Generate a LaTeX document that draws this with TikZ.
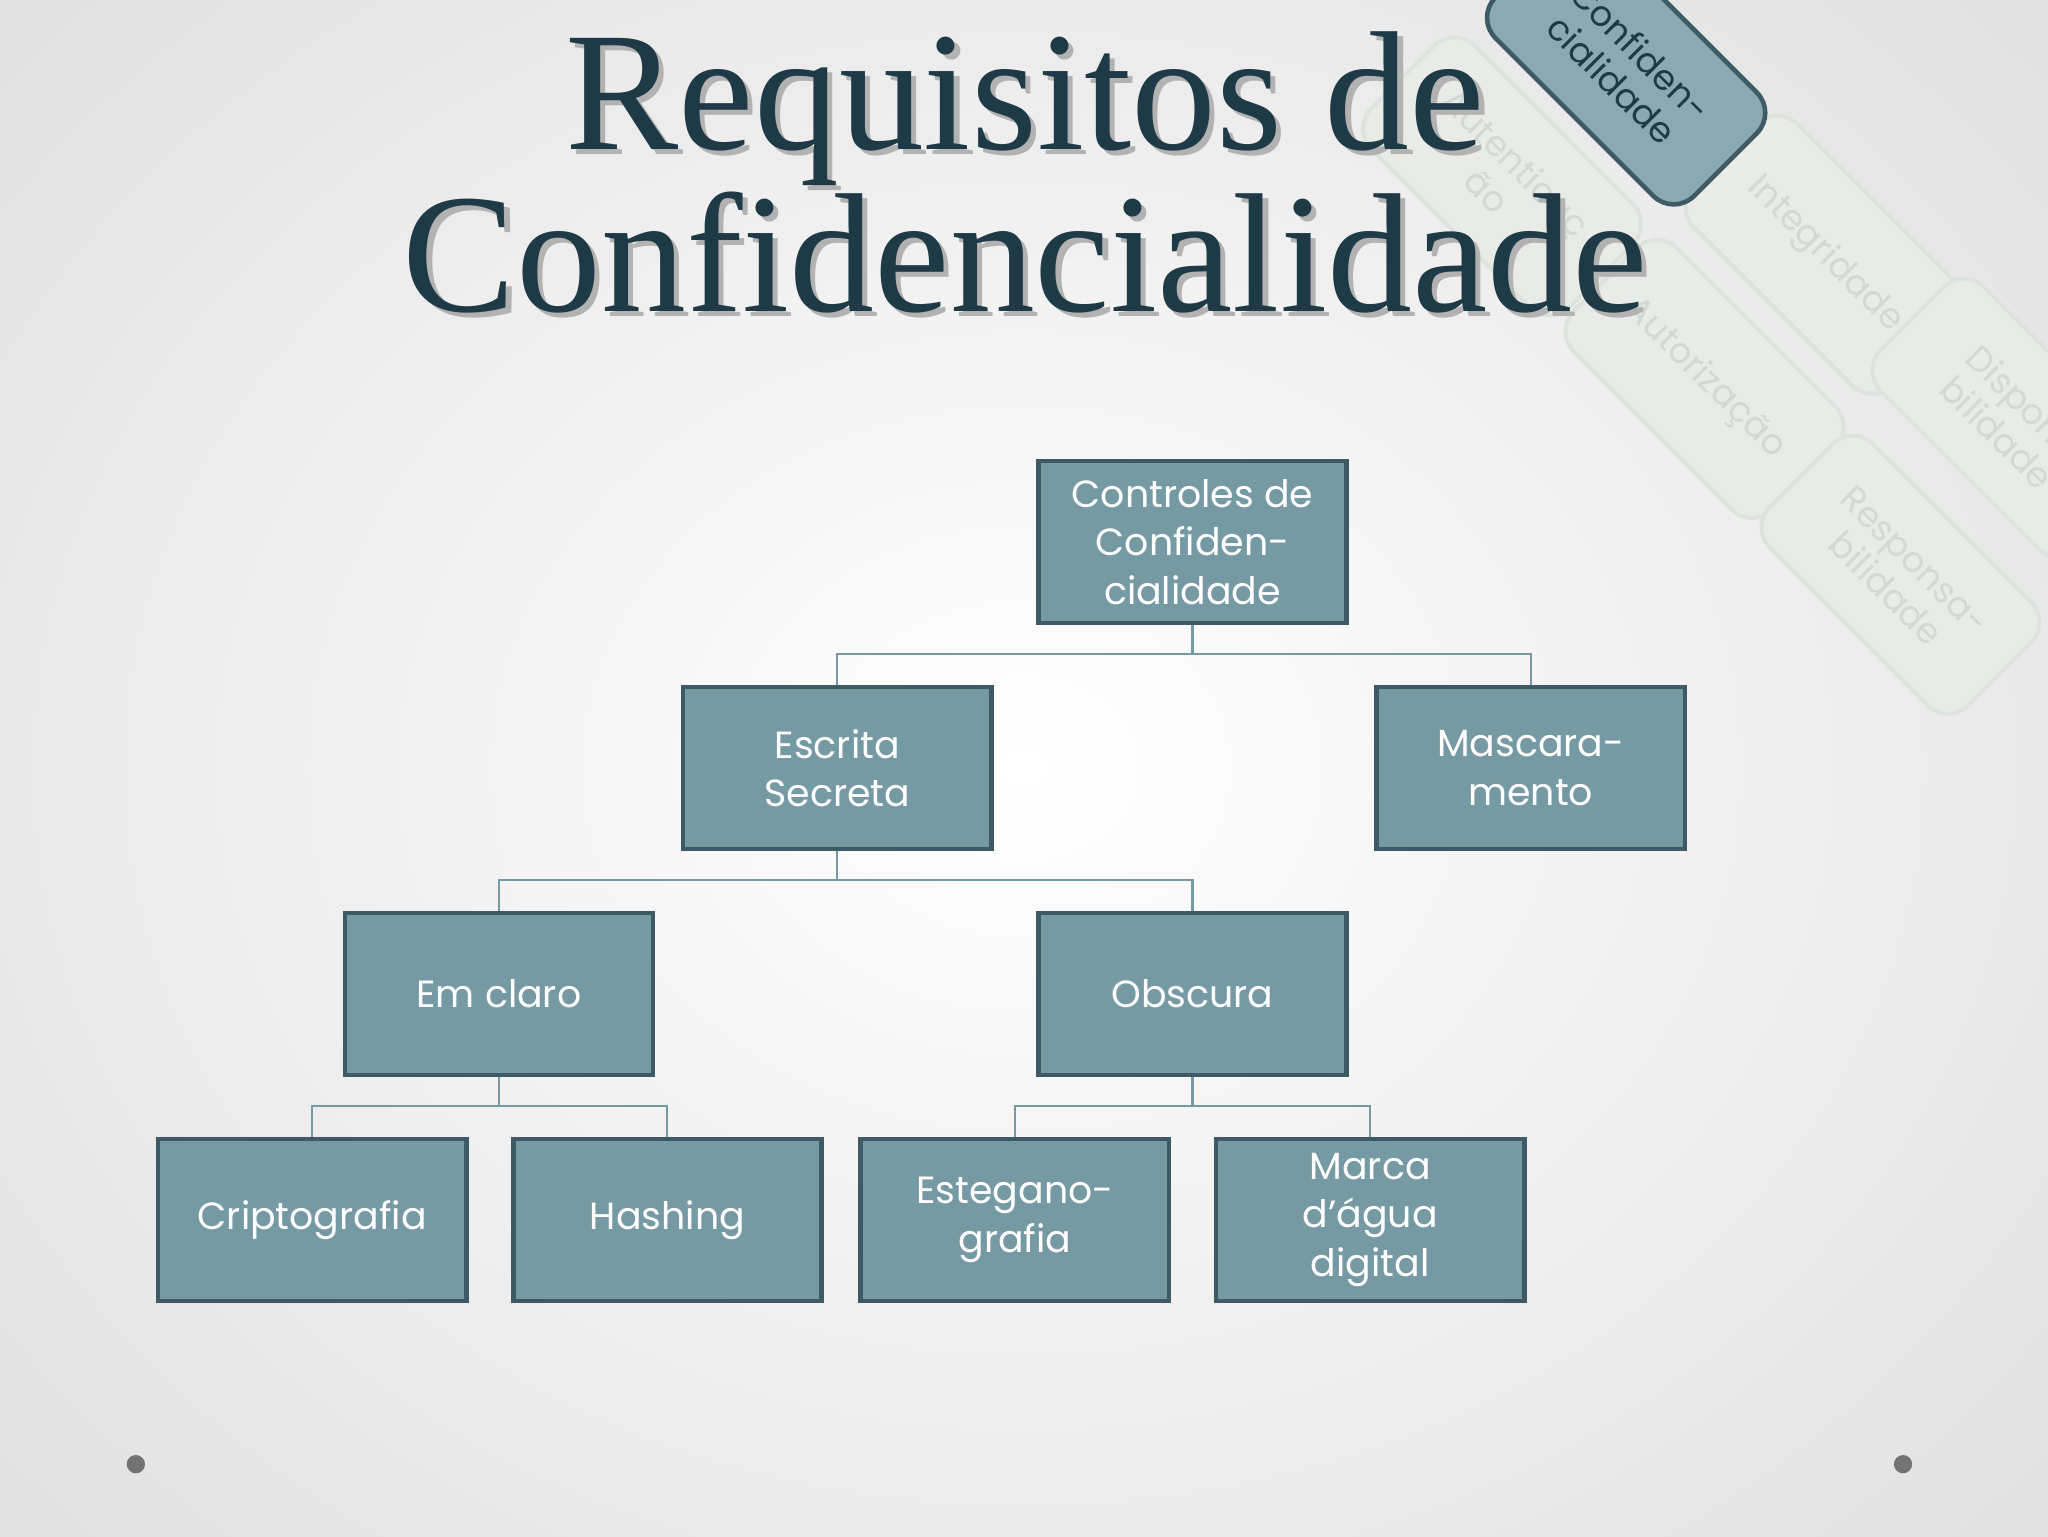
\documentclass[tikz,border=0pt]{standalone}
\usepackage{fontspec}
\setmainfont{Liberation Serif}
\newfontfamily\boxfont{Poppins}[Scale=1]
\begin{document}
\begin{tikzpicture}[x=1pt,y=-1pt,
  box/.style={draw=boxborder,line width=3.5pt,fill=boxfill,minimum width=236pt,minimum height=124pt,align=center,text=white,font=\boxfont\fontsize{29}{37}\selectfont},
  deco/.style={rounded corners=22pt,minimum width=215pt,minimum height=112pt,align=center,rotate=-45,font=\boxfont\fontsize{27}{31}\selectfont},
  faint/.style={deco,draw=decoline,line width=3pt,fill=decofill,text=decotext},
  conn/.style={draw=boxfill,line width=1.6pt}]
\definecolor{boxfill}{HTML}{759AA4}
\definecolor{boxborder}{HTML}{3E5A64}
\definecolor{decoline}{HTML}{DDE3DD}
\definecolor{decofill}{HTML}{E8EBE6}
\definecolor{decotext}{HTML}{D3D9D3}
\definecolor{titlecol}{HTML}{1F3A47}
\begin{scope}
\clip (0,0) rectangle (1568,1176);
\shade[inner color=white,outer color=black!12] (-300,-300) rectangle (1868,1476);
\node[faint] (au) at (1150,135) {Autenticaç\\ão};
\node[faint] (in) at (1397,195) {Integridade};
\node[faint] (ao) at (1305,290) {Autorização};
\node[faint] (di) at (1540,320) {Disponi-\\bilidade};
\node[faint] (re) at (1455,440) {Responsa-\\bilidade};
\node[deco,draw=boxborder,line width=3.5pt,fill=boxfill!85!white,text=titlecol] (co) at (1245,50) {Confiden-\\cialidade};
\end{scope}
\node[text=black!30,font=\fontsize{130}{124}\selectfont,align=center] at (789,136) {Requisitos de\\Confidencialidade};
\node[text=titlecol,font=\fontsize{130}{124}\selectfont,align=center] (title) at (785,132) {Requisitos de\\Confidencialidade};
\node[box] (c) at (913,415) {Controles de\\Confiden-\\cialidade};
\node[box] (e) at (641,588) {Escrita\\Secreta};
\node[box] (m) at (1172,588) {Mascara-\\mento};
\node[box] (ec) at (382,761) {Em claro};
\node[box] (ob) at (913,761) {Obscura};
\node[box] (cr) at (239,934) {Criptografia};
\node[box] (ha) at (511,934) {Hashing};
\node[box] (es) at (777,934) {Estegano-\\grafia};
\node[box] (ma) at (1049,934) {Marca\\d’água\\digital};
\draw[conn] (c.south) -- ++(0,22) -| (e.north);
\draw[conn] (c.south) -- ++(0,22) -| (m.north);
\draw[conn] (e.south) -- ++(0,22) -| (ec.north);
\draw[conn] (e.south) -- ++(0,22) -| (ob.north);
\draw[conn] (ec.south) -- ++(0,22) -| (cr.north);
\draw[conn] (ec.south) -- ++(0,22) -| (ha.north);
\draw[conn] (ob.south) -- ++(0,22) -| (es.north);
\draw[conn] (ob.south) -- ++(0,22) -| (ma.north);
\fill[black!55] (104,1121) circle (7);
\fill[black!55] (1457,1121) circle (7);
\useasboundingbox (0,0) rectangle (1568,1176);
\end{tikzpicture}
\end{document}
